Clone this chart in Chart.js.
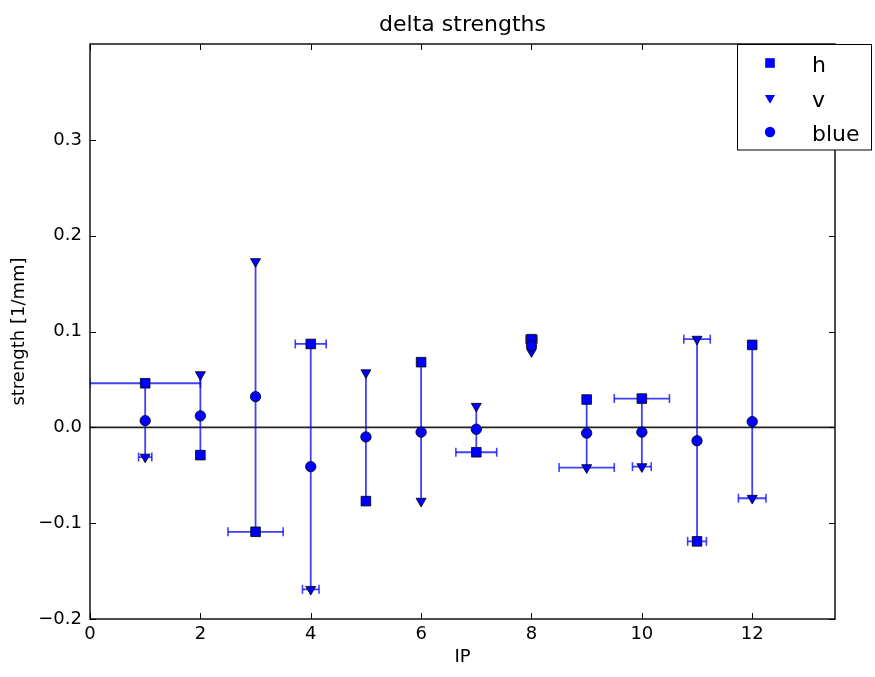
<!DOCTYPE html>
<html><head><meta charset="utf-8">
<style>html,body{margin:0;padding:0;background:#fff;}</style>
<script src="https://cdn.jsdelivr.net/npm/chart.js@4.4.0/dist/chart.umd.min.js"></script>
</head><body>
<canvas id="c" width="875" height="677"></canvas>
<script>
// ---- data ----
const ipValues   = [1, 2, 3, 4, 5, 6, 7, 8, 9, 10, 11, 12];
const hValues    = [0.046, -0.029, -0.109, 0.087, -0.077, 0.068, -0.026, 0.092, 0.029, 0.030, -0.119, 0.086];
const vValues    = [-0.031, 0.055, 0.173, -0.169, 0.057, -0.077, 0.022, 0.079, -0.042, -0.041, 0.092, -0.074];
const blueValues = [0.007, 0.012, 0.032, -0.041, -0.010, -0.005, -0.002, 0.085, -0.006, -0.005, -0.014, 0.006];
const hXerr      = [1.0, 0, 0.5, 0.28, 0, 0, 0.37, 0.1, 0, 0.5, 0.17, 0];
const vXerr      = [0.12, 0, 0, 0.15, 0, 0, 0, 0, 0.5, 0.17, 0.24, 0.25];
const xTicks     = [0, 2, 4, 6, 8, 10, 12];
const yTicks     = [-0.2, -0.1, 0.0, 0.1, 0.2, 0.3];
const titleText  = 'delta strengths';
const xLabel     = 'IP';
const yLabel     = 'strength [1/mm]';
const seriesNames = ['h', 'v', 'blue'];

// ---- derived structures ----
const FONT = 'DejaVu Sans';
Chart.defaults.font.family = FONT;
const lineColor = 'rgba(0,0,255,0.75)';
const markColor = '#0000ff';

const vertSegs = [];
ipValues.forEach((ip, i) => {
  vertSegs.push({x: ip, y: hValues[i]}, {x: ip, y: vValues[i]}, {x: ip, y: null});
});
function xerrSegs(vals, errs) {
  const out = [];
  ipValues.forEach((ip, i) => {
    if (errs[i] > 0) out.push({x: ip - errs[i], y: vals[i]}, {x: ip + errs[i], y: vals[i]}, {x: ip, y: null});
  });
  return out;
}
const pts = vals => ipValues.map((ip, i) => ({x: ip, y: vals[i]}));

const errStyle = {
  type: 'line', borderColor: lineColor, borderWidth: 1.8, spanGaps: false,
  pointStyle: 'line', rotation: 90, pointRadius: 4.5, pointBorderColor: lineColor,
  pointBorderWidth: 1.6, pointBackgroundColor: lineColor, fill: false
};
const markStyle = {
  type: 'line', showLine: false, backgroundColor: markColor, pointBackgroundColor: markColor,
  pointBorderColor: '#000', pointBorderWidth: 0.8
};

const fmt = v => { const s = Math.abs(v) < 1e-9 ? '0.0' : v.toFixed(1); return s.replace('-', '\u2212'); };

const decor = {
  id: 'decor',
  beforeDatasetsDraw(chart) {
    const {ctx, chartArea: a, scales: {y}} = chart;
    const y0 = y.getPixelForValue(0);
    ctx.save();
    ctx.strokeStyle = '#222'; ctx.lineWidth = 1.6;
    ctx.beginPath(); ctx.moveTo(a.left, y0); ctx.lineTo(a.right, y0); ctx.stroke();
    ctx.restore();
  },
  afterDraw(chart) {
    const {ctx, chartArea: a, scales: {x, y}} = chart;
    ctx.save();
    ctx.strokeStyle = '#000'; ctx.lineWidth = 1;
    const TL = 6;
    xTicks.forEach(t => {
      const px = Math.round(x.getPixelForValue(t)) + 0.5;
      ctx.beginPath();
      ctx.moveTo(px, a.bottom); ctx.lineTo(px, a.bottom - TL);
      ctx.moveTo(px, a.top); ctx.lineTo(px, a.top + TL);
      ctx.stroke();
    });
    yTicks.forEach(t => {
      const py = Math.round(y.getPixelForValue(t)) + 0.5;
      ctx.beginPath();
      ctx.moveTo(a.left, py); ctx.lineTo(a.left + TL, py);
      ctx.moveTo(a.right, py); ctx.lineTo(a.right - TL, py);
      ctx.stroke();
    });
    ctx.lineWidth = 1.4;
    ctx.strokeRect(a.left, a.top, a.right - a.left, a.bottom - a.top);
    ctx.fillStyle = '#000';
    ctx.font = '22px "' + FONT + '"';
    ctx.textAlign = 'center'; ctx.textBaseline = 'alphabetic';
    ctx.fillText(titleText, (a.left + a.right) / 2, 30.5);
    const bx = 737.5, by = 44.5, bw = 134, bh = 105.5;
    ctx.fillStyle = '#fff';
    ctx.fillRect(bx, by, bw, bh);
    ctx.strokeStyle = '#000'; ctx.lineWidth = 1;
    ctx.strokeRect(bx, by, bw, bh);
    const rows = [63, 98, 132];
    const styles = [
      {pointStyle: 'rect', radius: 6.8, rotation: 0},
      {pointStyle: 'triangle', radius: 5.8, rotation: 180},
      {pointStyle: 'circle', radius: 5.2, rotation: 0}
    ];
    rows.forEach((ry, i) => {
      ctx.fillStyle = markColor; ctx.strokeStyle = markColor; ctx.lineWidth = 0.8;
      Chart.helpers.drawPoint(ctx, styles[i], 770, ry);
      ctx.fillStyle = '#000';
      ctx.font = '22px "' + FONT + '"';
      ctx.textAlign = 'left'; ctx.textBaseline = 'alphabetic';
      ctx.fillText(seriesNames[i], 812, ry + 8.7);
    });
    ctx.restore();
  }
};

new Chart(document.getElementById('c'), {
  data: {
    datasets: [
      Object.assign({}, errStyle, {data: vertSegs, pointRadius: 0, order: 10}),
      Object.assign({}, errStyle, {data: xerrSegs(hValues, hXerr), order: 9}),
      Object.assign({}, errStyle, {data: xerrSegs(vValues, vXerr), order: 8}),
      Object.assign({}, markStyle, {label: seriesNames[0], data: pts(hValues), pointStyle: 'rect', pointRadius: 6.8, order: 3}),
      Object.assign({}, markStyle, {label: seriesNames[1], data: pts(vValues), pointStyle: 'triangle', pointRotation: 180, pointRadius: 5.8, order: 2}),
      Object.assign({}, markStyle, {label: seriesNames[2], data: pts(blueValues), pointStyle: 'circle', pointRadius: 5.2, order: 1})
    ]
  },
  options: {
    responsive: false, animation: false, devicePixelRatio: 1,
    layout: {padding: {top: 44, right: 40, left: 0, bottom: 0}},
    plugins: {legend: {display: false}, tooltip: {enabled: false}, title: {display: false}},
    scales: {
      x: {
        type: 'linear', min: 0, max: 13.5,
        afterFit(s) { s.height = 58; },
        afterBuildTicks(s) { s.ticks = xTicks.map(v => ({value: v})); },
        grid: {display: false, drawTicks: false, tickLength: 0},
        border: {display: false},
        ticks: {padding: 5, color: '#000', font: {size: 18}, maxRotation: 0, callback: v => String(v)},
        title: {display: true, text: xLabel, color: '#000', font: {size: 18}, padding: {top: 0, bottom: 9}}
      },
      y: {
        type: 'linear', min: -0.2, max: 0.4,
        afterFit(s) { s.width = 90; },
        afterBuildTicks(s) { s.ticks = yTicks.map(v => ({value: v})); },
        grid: {display: false, drawTicks: false, tickLength: 0},
        border: {display: false},
        ticks: {padding: 8, color: '#000', font: {size: 18}, callback: v => fmt(v)},
        title: {display: true, text: yLabel, color: '#000', font: {size: 18}, padding: {top: 9, bottom: 0}}
      }
    }
  },
  plugins: [decor]
});
</script>
</body></html>
